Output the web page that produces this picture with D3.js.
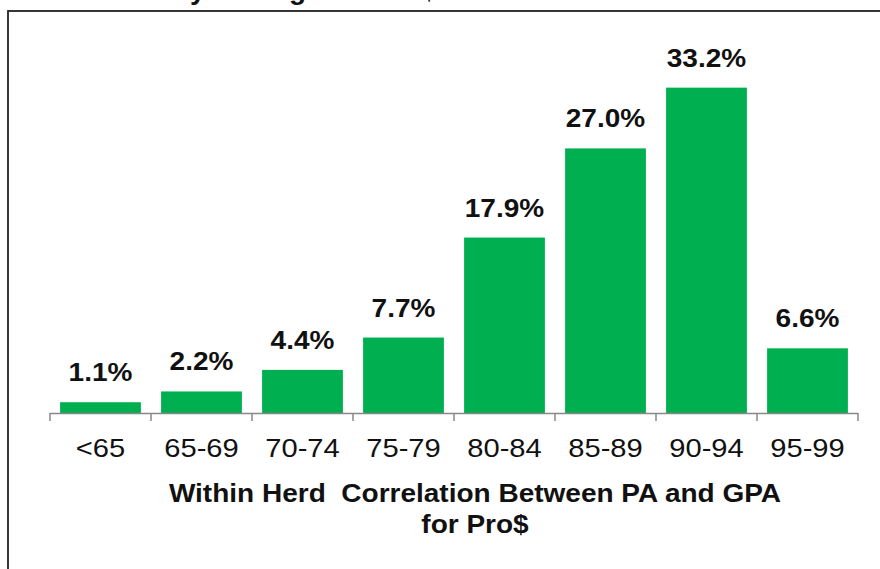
<!DOCTYPE html>
<html>
<head>
<meta charset="utf-8">
<script src="https://cdn.jsdelivr.net/npm/d3@7/dist/d3.min.js"></script>
<style>
  html, body { margin: 0; padding: 0; background: #fff; }
  svg { display: block; font-family: Arial, "Liberation Sans", sans-serif; }
</style>
</head>
<body>
<svg id="chart" width="880" height="569"></svg>
<script>
const categories = ["<65", "65-69", "70-74", "75-79", "80-84", "85-89", "90-94", "95-99"];
const values = [1.1, 2.2, 4.4, 7.7, 17.9, 27.0, 33.2, 6.6];
const valueLabels = ["1.1%", "2.2%", "4.4%", "7.7%", "17.9%", "27.0%", "33.2%", "6.6%"];
const titleText = "Distribution by Average for Pro$";
const axisTitleLines = ["Within Herd  Correlation Between PA and GPA", "for Pro$"];

const stretch = 1.12; // reference text appears horizontally widened
function widen(sel) {
  sel.each(function () {
    const len = this.getComputedTextLength();
    d3.select(this).attr("textLength", len * stretch).attr("lengthAdjust", "spacingAndGlyphs");
  });
}

const svg = d3.select("#chart");

// cut-off title at the very top
svg.append("text")
  .attr("x", 8).attr("y", -1)
  .attr("font-size", 28).attr("font-weight", "bold")
  .attr("fill", "#111")
  .text(titleText);

// chart frame (right and bottom edges outside the view)
svg.append("rect")
  .attr("x", 8).attr("y", 11)
  .attr("width", 900).attr("height", 600)
  .attr("fill", "none").attr("stroke", "#222").attr("stroke-width", 1.8);

const x = d3.scaleBand().domain(categories).range([50, 858]).paddingInner(0.2).paddingOuter(0.1);
const y = d3.scaleLinear().domain([0, 35]).range([413, 70]);

// bars
svg.selectAll("rect.bar").data(values).join("rect")
  .attr("class", "bar")
  .attr("x", (d, i) => x(categories[i]))
  .attr("width", x.bandwidth())
  .attr("y", d => y(d))
  .attr("height", d => y(0) - y(d))
  .attr("fill", "#00b050");

// value labels
svg.selectAll("text.val").data(values).join("text")
  .attr("class", "val")
  .attr("x", (d, i) => x(categories[i]) + x.bandwidth() / 2)
  .attr("y", d => y(d) - 21)
  .attr("text-anchor", "middle")
  .attr("font-size", 25).attr("font-weight", "bold")
  .attr("fill", "#111")
  .text((d, i) => valueLabels[i])
  .call(widen);

// x axis
const axisG = svg.append("g").attr("transform", `translate(0,${y(0)})`);
const xAxis = d3.axisBottom(x).tickSize(0).tickPadding(26);
axisG.call(xAxis);
axisG.select(".domain").attr("d", `M50,0.5H858`).attr("stroke", "#888").attr("stroke-width", 1.5);
axisG.selectAll(".tick text")
  .attr("font-size", 26).attr("fill", "#111")
  .attr("font-family", "Arial, 'Liberation Sans', sans-serif")
  .call(widen);
// band boundary tick marks
const boundaries = categories.map(c => x(c) - x.step() * x.paddingInner() / 2);
boundaries.push(858);
axisG.selectAll("line.bt").data(boundaries).join("line")
  .attr("class", "bt")
  .attr("x1", d => d).attr("x2", d => d)
  .attr("y1", 0).attr("y2", 8)
  .attr("stroke", "#888").attr("stroke-width", 1.5);

// axis title
svg.selectAll("text.at").data(axisTitleLines).join("text")
  .attr("class", "at")
  .attr("x", 475)
  .attr("y", (d, i) => 502 + i * 31)
  .attr("text-anchor", "middle")
  .attr("font-size", 25).attr("font-weight", "bold")
  .attr("fill", "#111")
  .attr("xml:space", "preserve")
  .style("white-space", "pre")
  .text(d => d)
  .call(widen);
</script>
</body>
</html>
